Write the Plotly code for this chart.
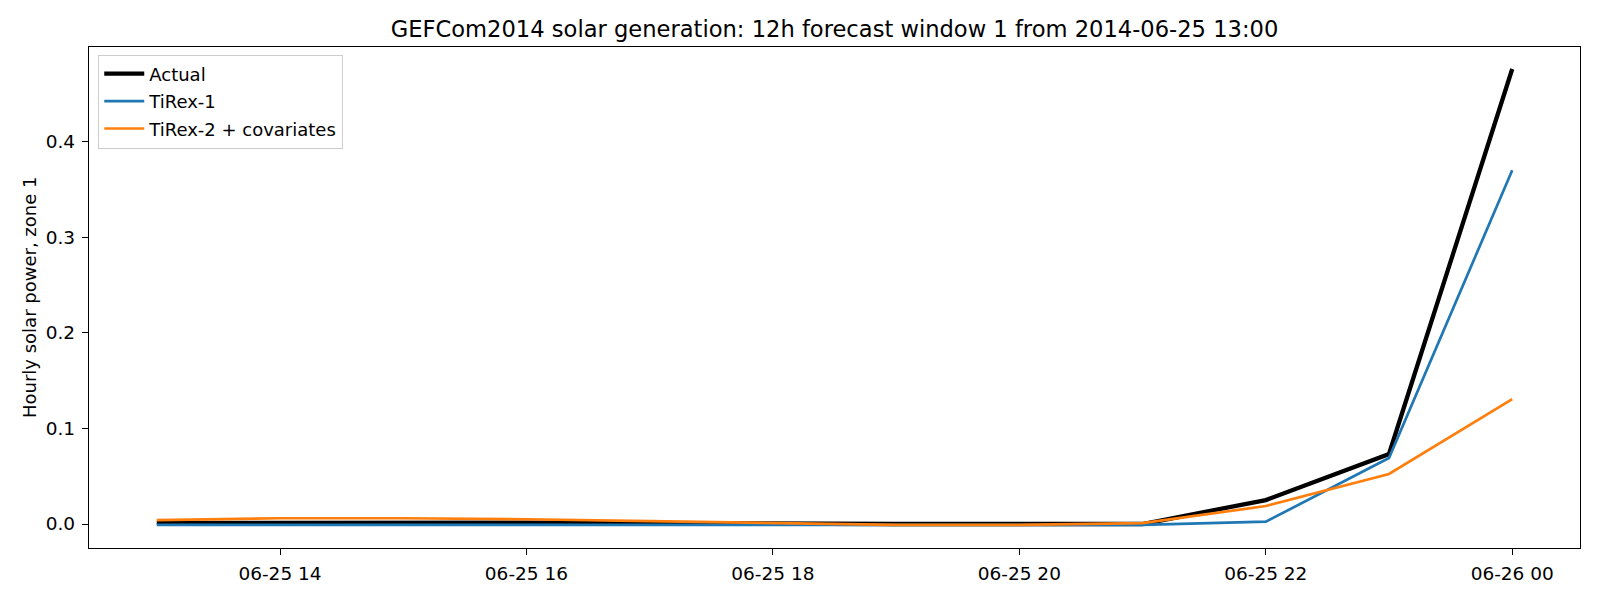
import plotly.graph_objects as go
import pandas as pd

times = pd.date_range("2014-06-25 13:00", periods=12, freq="h")

actual = [0.0012, 0.0015, 0.0015, 0.0013, 0.001, 0.0, 0.0, 0.0, 0.0, 0.025, 0.0732, 0.476]
tirex1 = [-0.001, -0.001, -0.001, -0.001, -0.001, -0.001, -0.001, -0.001, -0.001, 0.0024, 0.069, 0.370]
tirex2 = [0.004, 0.006, 0.006, 0.005, 0.003, 0.001, -0.001, -0.001, 0.001, 0.0188, 0.0523, 0.1307]

series_names = ["Actual", "TiRex-1", "TiRex-2 + covariates"]
title_text = "GEFCom2014 solar generation: 12h forecast window 1 from 2014-06-25 13:00"
y_label = "Hourly solar power, zone 1"

FONT = "DejaVu Sans"
FS = 18

fig = go.Figure()
fig.add_trace(go.Scatter(x=times, y=actual, mode="lines", name=series_names[0],
                         line=dict(color="#000000", width=4.3), legendgroup="a"))
fig.add_trace(go.Scatter(x=times, y=tirex1, mode="lines", name=series_names[1],
                         line=dict(color="#1f77b4", width=2.7), legendgroup="b"))
fig.add_trace(go.Scatter(x=times, y=tirex2, mode="lines", name=series_names[2],
                         line=dict(color="#ff7f0e", width=2.7), legendgroup="c"))

x0 = times[0] - pd.Timedelta(minutes=33)
x1 = times[-1] + pd.Timedelta(minutes=33)

fig.update_layout(
    width=1600, height=600,
    margin=dict(l=89, r=20, t=47, b=52),
    paper_bgcolor="white", plot_bgcolor="white",
    font=dict(family=FONT, size=FS, color="black"),
    title=dict(text=title_text, font=dict(family=FONT, size=22.6, color="black"),
               x=834.5 / 1600, xanchor="center", xref="container",
               y=1 - 29 / 600, yanchor="middle", yref="container"),
    showlegend=True,
    legend=dict(x=0.0062, y=0.985, xanchor="left", yanchor="top",
                bgcolor="rgba(255,255,255,0.8)", bordercolor="#cccccc", borderwidth=1,
                font=dict(family=FONT, size=FS, color="black"),
                tracegroupgap=1, itemwidth=40),
    xaxis=dict(type="date", range=[x0, x1], showgrid=False, zeroline=False,
               showline=True, linecolor="black", linewidth=1.4, mirror=True,
               ticks="outside", ticklen=6, tickwidth=1.4, tickcolor="black",
               tick0="2014-06-25 14:00", dtick=7200000, tickformat="%m-%d %H",
               ticklabelstandoff=3,
               tickfont=dict(family=FONT, size=18.5, color="black")),
    yaxis=dict(range=[-0.0251, 0.499], showgrid=False, zeroline=False,
               showline=True, linecolor="black", linewidth=1.4, mirror=True,
               ticks="outside", ticklen=6, tickwidth=1.4, tickcolor="black",
               tick0=0, dtick=0.1, tickformat=".1f", ticklabelstandoff=3,
               tickfont=dict(family=FONT, size=18.5, color="black")),
    annotations=[dict(text=y_label, textangle=-90, xref="paper", yref="paper",
                      x=(29.5 - 89) / 1491, y=0.5, xanchor="center", yanchor="middle",
                      showarrow=False, font=dict(family=FONT, size=FS, color="black"))],
)

fig.write_html("out.html")
